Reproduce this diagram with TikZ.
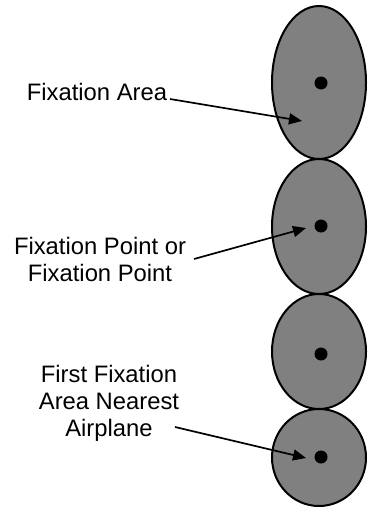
\documentclass[tikz,border=0pt]{standalone}
\usepackage{fontspec}
\setmainfont{Liberation Sans}
\usetikzlibrary{arrows.meta}
\begin{document}
\begin{tikzpicture}[x=1pt,y=-1pt,
  area/.style={draw=black,line width=2pt,fill=gray50},
  fixdot/.style={fill=black},
  lbl/.style={font=\fontsize{23.8}{27}\selectfont,inner sep=0pt,align=center},
  pointer/.style={line width=1.7pt,-{Triangle[length=13pt,width=11pt]}}]
\definecolor{gray50}{HTML}{808080}
\useasboundingbox (0,0) rectangle (367,508);
% fixation areas
\draw[area] (319,82.5) ellipse [x radius=47,y radius=76.5];
\draw[area] (319,226.5) ellipse [x radius=47,y radius=67.5];
\draw[area] (319,351.5) ellipse [x radius=47,y radius=57.5];
\draw[area] (319,457.5) ellipse [x radius=47,y radius=48.5];
% dots
\fill[fixdot] (321,83) circle (6.5);
\fill[fixdot] (321,226) circle (6.5);
\fill[fixdot] (321,354) circle (6.5);
\fill[fixdot] (321,457) circle (6.5);
% labels (base anchor = baseline of the last line)
\node[lbl,anchor=base] (t1) at (97,100) {Fixation Area};
\node[lbl,anchor=base] (t2) at (100,281.5) {Fixation Point or\\Fixation Point};
\node[lbl,anchor=base] (t3) at (109,436.5) {First Fixation\\Area Nearest\\Airplane};
% arrow ends
\coordinate (s1) at (170,99);
\coordinate (e1) at (302,121);
\coordinate (s2) at (194,259);
\coordinate (e2) at (306,228);
\coordinate (s3) at (175,427);
\coordinate (e3) at (306,458);
\draw[pointer] (s1) -- (e1);
\draw[pointer] (s2) -- (e2);
\draw[pointer] (s3) -- (e3);
\end{tikzpicture}
\end{document}
